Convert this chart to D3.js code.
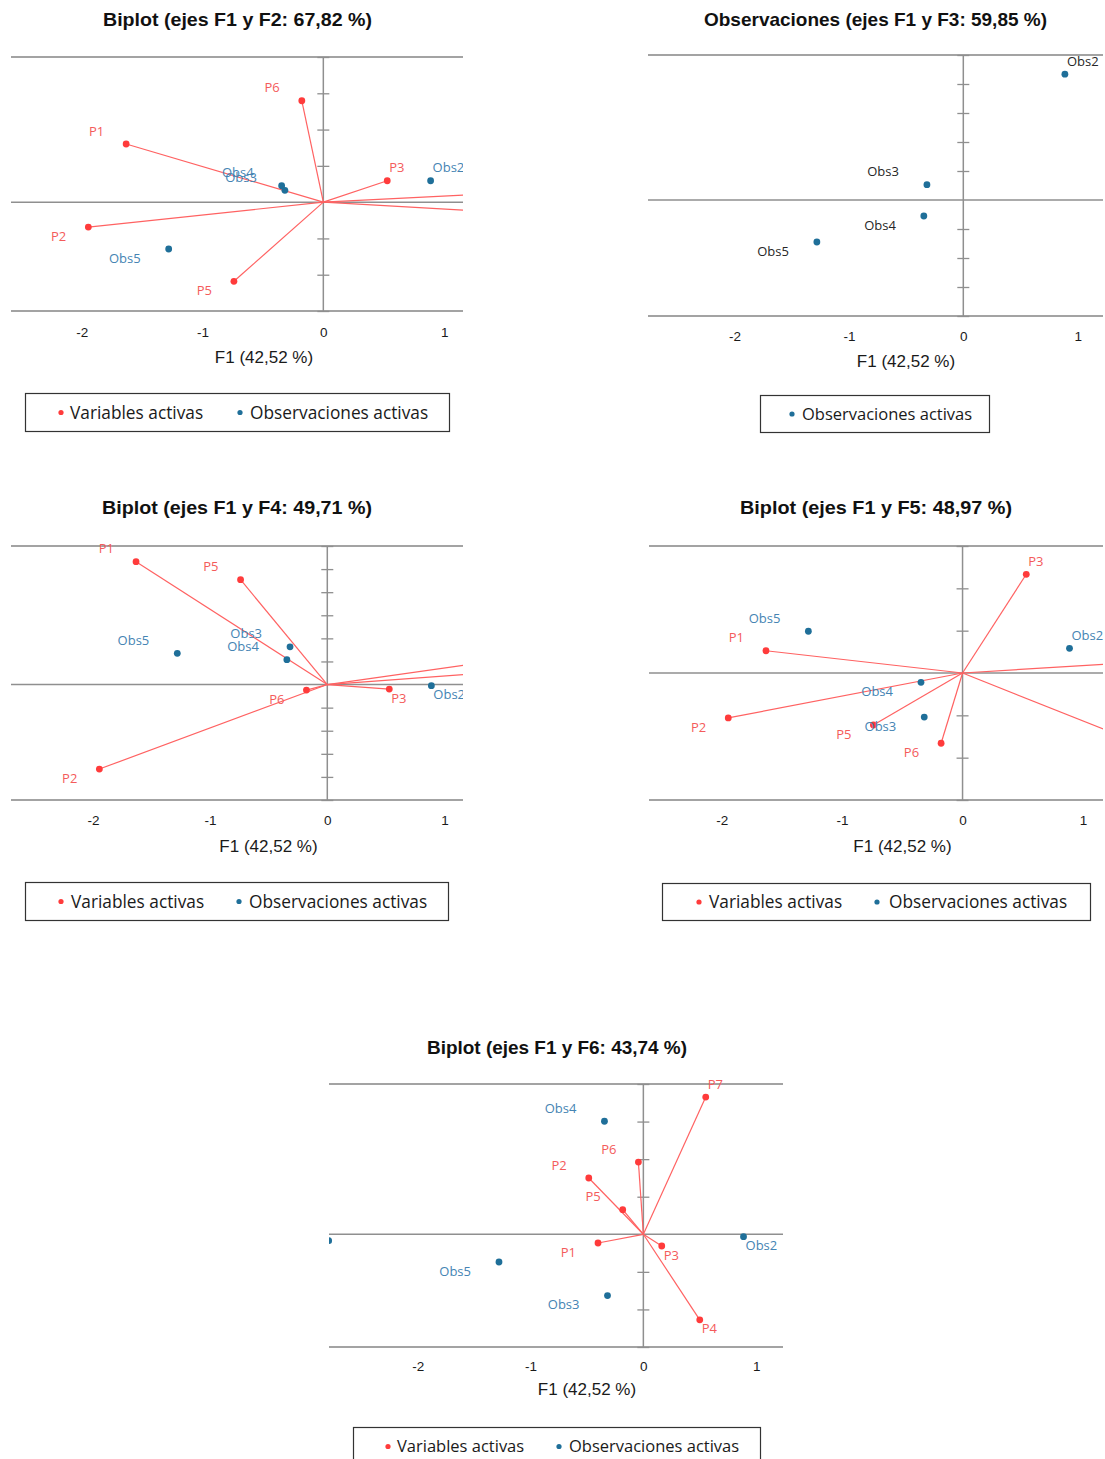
<!DOCTYPE html>
<html><head><meta charset="utf-8">
<script src="https://cdn.jsdelivr.net/npm/d3@7"></script>
<style>
html,body{margin:0;padding:0;background:#fff;}
svg{display:block;}
</style></head>
<body>
<svg id="chart" width="1105" height="1459"></svg>
<script>
// ---------- DATA ----------
const varNames = ["P1","P2","P3","P4","P5","P6","P7"];
const obsNames = ["Obs1","Obs2","Obs3","Obs4","Obs5"];
// variable coordinates in the F1/F2, F1/F4, F1/F5 biplots (P4 and P7 fall outside the visible range)
const varF1 = [-1.632, -1.945, 0.529, 2.0, -0.74, -0.178, 2.2];
const varF2 = [0.801, -0.343, 0.295, -0.188, -1.091, 1.397, 0.186];
const varF4 = [1.064, -0.732, -0.039, 0.147, 0.908, -0.048, 0.316];
const varF5 = [0.263, -0.531, 1.166, -1.134, -0.614, -0.830, 0.194];
// variable coordinates in the F1/F6 biplot
const varF1b = [-0.402, -0.484, 0.163, 0.500, -0.183, -0.044, 0.553];
const varF6 = [-0.116, 0.749, -0.156, -1.138, 0.328, 0.961, 1.826];
// observations
const obsF1 = [-2.79, 0.888, -0.318, -0.345, -1.28];
const obsF2 = [null, 0.295, 0.163, 0.226, -0.646];
const obsF3 = [null, 2.17, 0.264, -0.276, -0.724];
const obsF4 = [null, -0.010, 0.327, 0.215, 0.270];
const obsF5 = [null, 0.292, -0.520, -0.110, 0.493];
const obsF6 = [-0.085, -0.032, -0.815, 1.504, -0.369];
const xTickValues = [-2, -1, 0, 1];
const axisTitle = "F1 (42,52 %)";
const legendVar = "Variables activas";
const legendObs = "Observaciones activas";

// ---------- LAYOUT / STYLE ----------
const RED = "#ff3b3b", RED_LINE = "#ff6262", RED_TEXT = "#f45b5b";
const BLUE = "#1f6f99", BLUE_TEXT = "#4584b3", DARK_TEXT = "#262626";

const panels = [
  {title:"Biplot (ejes F1 y F2: 67,82 %)", tx:237.5, ty:26, tw:269,
   left:11, right:463, top:57, bottom:311, xDom:[-2.585,1.156], yDom:[-1.5,2], yStep:0.5,
   vx:varF1, vy:varF2, oy:obsF2, obsText:BLUE_TEXT, ax:264, tickBase:336.5, axBase:363,
   pos:{P1:"tl",P2:"bl",P3:"tr",P5:"bl",P6:"tl",Obs2:"tr",Obs3:"tl",Obs4:"tl",Obs5:"bl"},
   legend:{x:25,y:393,w:424,h:38,fs:17.3,items:[["v",61,70],["o",240,250]]}},
  {title:"Observaciones (ejes F1 y F3: 59,85 %)", tx:875.5, ty:25.5, tw:343,
   left:648, right:1103, top:55, bottom:316, xDom:[-2.756,1.221], yDom:[-2,2.5], yStep:0.5,
   vx:null, vy:null, oy:obsF3, obsText:DARK_TEXT, ax:906, tickBase:341, axBase:367,
   pos:{Obs2:"tr",Obs3:"tl",Obs4:"bl",Obs5:"bl"},
   legend:{x:760,y:395,w:229,h:37,fs:16.5,items:[["o",792,802]]}},
  {title:"Biplot (ejes F1 y F4: 49,71 %)", tx:237, ty:514, tw:270,
   left:11, right:463, top:546, bottom:800, xDom:[-2.699,1.158], yDom:[-1,1.2], yStep:0.2,
   vx:varF1, vy:varF4, oy:obsF4, obsText:BLUE_TEXT, ax:268.5, tickBase:825, axBase:852,
   pos:{P1:"tl",P2:"bl",P3:"br",P5:"tl",P6:"bl",Obs2:"br",Obs3:"tl",Obs4:"tl",Obs5:"tl"},
   legend:{x:25,y:882,w:423,h:38,fs:17.3,items:[["v",61,71],["o",239,249]]}},
  {title:"Biplot (ejes F1 y F5: 48,97 %)", tx:876, ty:514, tw:272,
   left:649, right:1103, top:546, bottom:800, xDom:[-2.603,1.166], yDom:[-1.5,1.5], yStep:0.5,
   vx:varF1, vy:varF5, oy:obsF5, obsText:BLUE_TEXT, ax:902.5, tickBase:825, axBase:852,
   pos:{P1:"tl",P2:"bl",P3:"tr",P5:"bl",P6:"bl",Obs2:"tr",Obs3:"bl",Obs4:"bl",Obs5:"tl"},
   legend:{x:662,y:883,w:428,h:37,fs:17.3,items:[["v",699,709],["o",877,889]]}},
  {title:"Biplot (ejes F1 y F6: 43,74 %)", tx:557, ty:1054, tw:260,
   left:329, right:783, top:1084, bottom:1347, xDom:[-2.787,1.238], yDom:[-1.5,2], yStep:0.5,
   vx:varF1b, vy:varF6, oy:obsF6, obsText:BLUE_TEXT, ax:587, tickBase:1370.5, axBase:1395,
   pos:{P1:"bl",P2:"tl",P3:"br",P4:"br",P5:"tl",P6:"tl",P7:"tr",Obs1:"bl",Obs2:"br",Obs3:"bl",Obs4:"tl",Obs5:"bl"},
   legend:{x:353,y:1427,w:407,h:38,fs:16.5,items:[["v",388,397],["o",559,569]]}}
];

const svg = d3.select("#chart");
const defs = svg.append("defs");

panels.forEach((p, i) => {
  const g = svg.append("g");
  const x = d3.scaleLinear().domain(p.xDom).range([p.left, p.right]);
  const y = d3.scaleLinear().domain(p.yDom).range([p.bottom, p.top]);
  const clipId = "clip" + i;
  defs.append("clipPath").attr("id", clipId).append("rect")
    .attr("x", p.left).attr("y", p.top - 40).attr("width", p.right - p.left).attr("height", p.bottom - p.top + 80);

  // title
  g.append("text").attr("x", p.tx).attr("y", p.ty).attr("text-anchor", "middle")
    .attr("font-family", "'Liberation Sans', Arial, sans-serif").attr("font-weight", "bold")
    .attr("font-size", 19).attr("fill", "#111")
    .attr("textLength", p.tw).attr("lengthAdjust", "spacingAndGlyphs").text(p.title);

  // frame lines (top and bottom)
  [p.top, p.bottom].forEach(yy => g.append("line")
    .attr("x1", p.left).attr("x2", p.right).attr("y1", yy).attr("y2", yy)
    .attr("stroke", "#a3a3a3").attr("stroke-width", 2));

  // zero axes
  g.append("line").attr("x1", p.left).attr("x2", p.right).attr("y1", y(0)).attr("y2", y(0))
    .attr("stroke", "#8f8f8f").attr("stroke-width", 1.5);
  g.append("line").attr("x1", x(0)).attr("x2", x(0)).attr("y1", p.top).attr("y2", p.bottom)
    .attr("stroke", "#8f8f8f").attr("stroke-width", 1.5);

  // vertical axis ticks crossing x = 0
  const yt = d3.range(Math.ceil(p.yDom[0] / p.yStep), Math.floor(p.yDom[1] / p.yStep + 1e-6) + 1)
    .map(k => +(k * p.yStep).toFixed(6)).filter(v => v !== 0);
  const yAxis = d3.axisRight(y).tickValues(yt).tickSize(12).tickFormat("");
  const ya = g.append("g").attr("transform", `translate(${x(0) - 6},0)`).call(yAxis);
  ya.select(".domain").remove();
  ya.selectAll("line").attr("stroke", "#8f8f8f").attr("stroke-width", 1.3);

  // x tick labels
  const xAxis = d3.axisBottom(x).tickValues(xTickValues).tickSize(0).tickFormat(d => String(d));
  const xa = g.append("g").attr("transform", `translate(0,${p.tickBase - 10})`).call(xAxis);
  xa.select(".domain").remove();
  xa.selectAll("text").attr("font-family", "'Liberation Sans', Arial, sans-serif")
    .attr("font-size", 13.5).attr("fill", "#1a1a1a").attr("dy", 0).attr("y", 10);

  // axis title
  g.append("text").attr("x", p.ax).attr("y", p.axBase).attr("text-anchor", "middle")
    .attr("font-family", "'Liberation Sans', Arial, sans-serif").attr("font-size", 17)
    .attr("fill", "#1a1a1a").text(axisTitle);

  const plot = g.append("g").attr("clip-path", `url(#${clipId})`);

  function labelAttrs(sel, code, isObs) {
    const left = code[1] === "l";
    const top = code[0] === "t";
    sel.attr("text-anchor", left ? "end" : "start")
      .attr("dx", left ? (isObs ? -28 : -22) : 2)
      .attr("dy", top ? -8.4 : 13.6);
  }

  // variables (vectors)
  if (p.vx) {
    const vars = varNames.map((n, k) => ({name: n, vx: p.vx[k], vy: p.vy[k]}));
    plot.selectAll(".vline").data(vars).enter().append("line")
      .attr("x1", x(0)).attr("y1", y(0)).attr("x2", d => x(d.vx)).attr("y2", d => y(d.vy))
      .attr("stroke", RED_LINE).attr("stroke-width", 1.2);
    plot.selectAll(".vpt").data(vars).enter().append("circle")
      .attr("cx", d => x(d.vx)).attr("cy", d => y(d.vy)).attr("r", 3.4).attr("fill", RED);
    vars.forEach(d => {
      const code = p.pos[d.name];
      if (!code) return;
      const t = plot.append("text").attr("x", x(d.vx)).attr("y", y(d.vy))
        .attr("font-family", "'Open Sans', sans-serif").attr("font-size", 13)
        .attr("fill", RED_TEXT).text(d.name);
      labelAttrs(t, code, false);
    });
  }

  // observations
  const obs = obsNames.map((n, k) => ({name: n, ox: obsF1[k], oy: p.oy[k]})).filter(d => d.oy !== null);
  plot.selectAll(".opt").data(obs).enter().append("circle")
    .attr("cx", d => x(d.ox)).attr("cy", d => y(d.oy)).attr("r", 3.4).attr("fill", BLUE);
  obs.forEach(d => {
    const code = p.pos[d.name];
    if (!code) return;
    const t = plot.append("text").attr("x", x(d.ox)).attr("y", y(d.oy))
      .attr("font-family", "'Open Sans', sans-serif").attr("font-size", 13)
      .attr("fill", p.obsText).text(d.name);
    labelAttrs(t, code, true);
  });

  // legend
  const L = p.legend;
  g.append("rect").attr("x", L.x + 0.5).attr("y", L.y + 0.5).attr("width", L.w).attr("height", L.h)
    .attr("fill", "#fff").attr("stroke", "#333").attr("stroke-width", 1.2);
  const cy = L.y + L.h / 2 + 0.5;
  L.items.forEach(([kind, dx, tx]) => {
    g.append("circle").attr("cx", dx).attr("cy", cy).attr("r", 2.6)
      .attr("fill", kind === "v" ? RED : BLUE);
    g.append("text").attr("x", tx).attr("y", cy + L.fs * 0.36)
      .attr("font-family", "'Open Sans', sans-serif").attr("font-size", L.fs)
      .attr("fill", "#1a1a1a").text(kind === "v" ? legendVar : legendObs);
  });
});
</script>
</body></html>
